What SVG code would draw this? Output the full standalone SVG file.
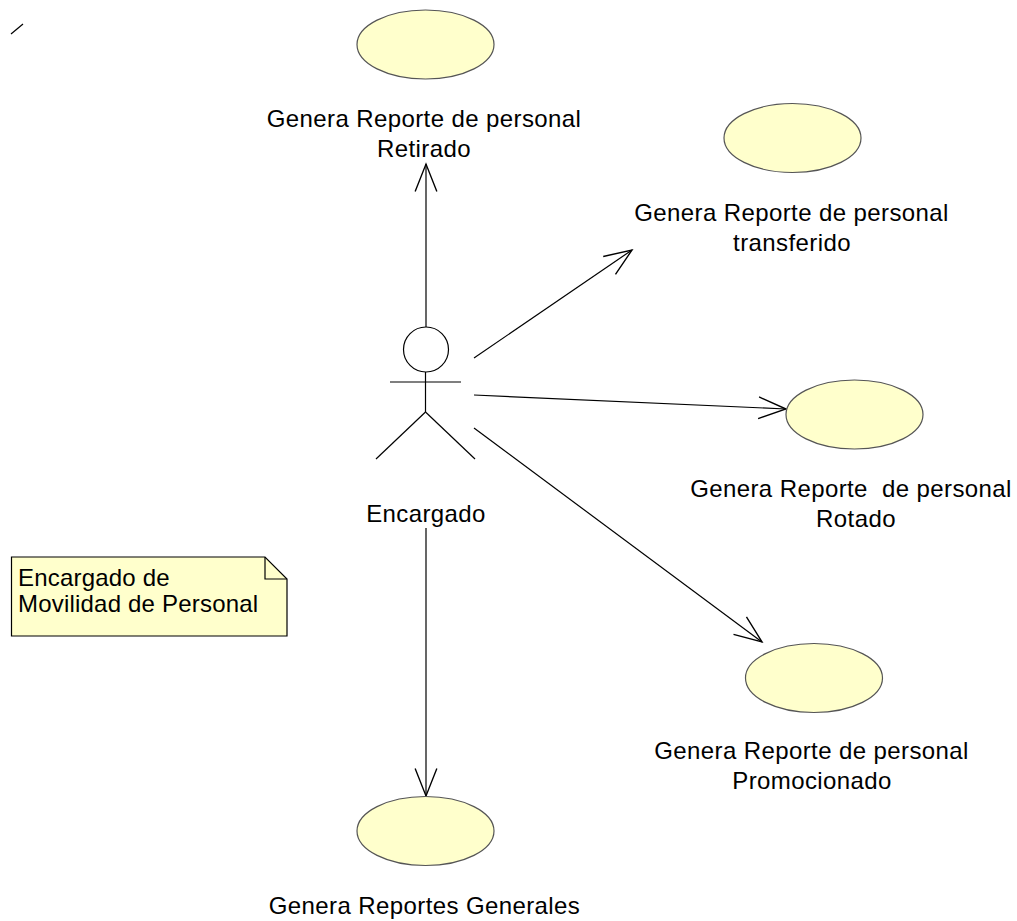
<svg xmlns="http://www.w3.org/2000/svg" width="1017" height="921" viewBox="0 0 1017 921">
  <style>
    .uc { fill: #ffffcc; stroke: #555555; stroke-width: 1.2; }
    .lbl { font-family: "Liberation Sans", Arial, sans-serif; font-size: 24px; letter-spacing: 0.4px; fill: #000000; text-anchor: middle; }
    .note-text { font-family: "Liberation Sans", Arial, sans-serif; font-size: 24px; letter-spacing: 0.2px; fill: #000000; }
    .ln { stroke: #000000; stroke-width: 1.2; fill: none; }
    .assoc { stroke: #000000; stroke-width: 1.2; fill: none; marker-end: url(#open-arrow); }
  </style>
  <defs>
    <marker id="open-arrow" markerUnits="userSpaceOnUse" markerWidth="40" markerHeight="40" viewBox="-30 -15 35 30" refX="0" refY="0" orient="auto">
      <path d="M -24,-9.5 L 0,0 L -24,9.5" fill="none" stroke="#000000" stroke-width="1.2"/>
    </marker>
  </defs>
  <rect width="1017" height="921" fill="#ffffff"/>

  <!-- stray stroke in the corner -->
  <line class="ln" x1="11" y1="34" x2="23" y2="24" stroke="#555555"/>

  <!-- associations from the actor -->
  <g id="connectors">
    <line class="assoc" x1="426" y1="327" x2="426" y2="164"/>
    <line class="assoc" x1="474" y1="358" x2="632" y2="250"/>
    <line class="assoc" x1="474" y1="395" x2="786" y2="409"/>
    <line class="assoc" x1="474" y1="428" x2="762" y2="642"/>
    <line class="assoc" x1="426" y1="528" x2="426" y2="796"/>
  </g>

  <!-- actor -->
  <g id="actor-encargado">
    <circle cx="426" cy="349.5" r="22.5" fill="#ffffff" stroke="#000000" stroke-width="1.2"/>
    <line class="ln" x1="390" y1="382" x2="461" y2="382"/>
    <line class="ln" x1="425.5" y1="372" x2="425.5" y2="412"/>
    <line class="ln" x1="425.5" y1="412" x2="376" y2="459"/>
    <line class="ln" x1="425.5" y1="412" x2="475" y2="459"/>
    <text class="lbl" x="426" y="522">Encargado</text>
  </g>

  <!-- use cases -->
  <g id="uc-retirado">
    <ellipse class="uc" cx="425.5" cy="44.5" rx="68.5" ry="34.5"/>
    <text class="lbl" x="424" y="127">Genera Reporte de personal</text>
    <text class="lbl" x="424" y="157">Retirado</text>
  </g>

  <g id="uc-transferido">
    <ellipse class="uc" cx="792.5" cy="138" rx="68.5" ry="34.5"/>
    <text class="lbl" x="791.5" y="221">Genera Reporte de personal</text>
    <text class="lbl" x="792" y="251">transferido</text>
  </g>

  <g id="uc-rotado">
    <ellipse class="uc" cx="854.5" cy="414.5" rx="68.5" ry="34.5"/>
    <text class="lbl" x="851" y="497" xml:space="preserve">Genera Reporte  de personal</text>
    <text class="lbl" x="856" y="527">Rotado</text>
  </g>

  <g id="uc-promocionado">
    <ellipse class="uc" cx="814" cy="678" rx="68.5" ry="34.5"/>
    <text class="lbl" x="811.5" y="759">Genera Reporte de personal</text>
    <text class="lbl" x="812" y="789">Promocionado</text>
  </g>

  <g id="uc-generales">
    <ellipse class="uc" cx="425.5" cy="831" rx="68.5" ry="34.5"/>
    <text class="lbl" x="424.5" y="914">Genera Reportes Generales</text>
  </g>

  <!-- note -->
  <g id="note-movilidad">
    <path d="M 11.5,557 L 265,557 L 287,579 L 287,636 L 11.5,636 Z" fill="#ffffcc" stroke="#000000" stroke-width="1.2"/>
    <path d="M 265,557 L 265,579 L 287,579" fill="none" stroke="#000000" stroke-width="1.2"/>
    <text class="note-text" x="18" y="586">Encargado de</text>
    <text class="note-text" x="18" y="612">Movilidad de Personal</text>
  </g>
</svg>
